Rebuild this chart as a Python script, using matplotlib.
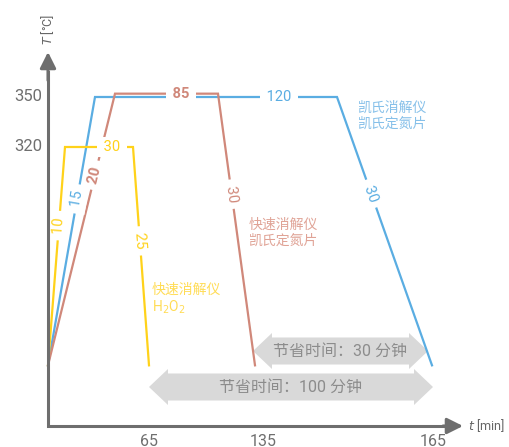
import numpy as np
import matplotlib.pyplot as plt
from matplotlib.patches import Polygon

plt.rcParams['font.family'] = ['Roboto', 'Noto Sans CJK SC', 'DejaVu Sans']

# schematic chart: x is a layout position (not to scale), y is temperature in °C
T_BASE = 189
T_AXIS = 152.6
yellow_x = [0, 17, 85, 101]
yellow_T = [T_BASE, 320, 320, T_BASE]
red_x = [0, 67, 170, 207]
red_T = [T_BASE, 352, 352, T_BASE]
blue_x = [0, 47, 289, 384]
blue_T = [T_BASE, 350, 350, T_BASE]

# minutes written on each segment (rise, hold, cool)
yellow_labels = ['10', '30', '25']
red_labels = ['20', '85', '30']
blue_labels = ['15', '120', '30']
yellow_where = [0.64, 0.69, 0.43]
red_where = [0.70, 0.64, 0.37]
blue_where = [0.62, 0.76, 0.36]
red_bold = [True, True, False]

y_ticks = [350, 320]
x_ticks = [101, 215, 385]
x_tick_labels = ['65', '135', '165']

saved_x0 = [205, 101]
saved_x1 = [380, 385]
saved_T = [197.6, 176.0]
saved_text = ['节省时间：30 分钟', '节省时间：100 分钟']

YELLOW = '#ffd21a'
RED = '#d0887a'
BLUE = '#5aade2'
AXIS = '#6e6e6e'
K = 0.6  # degC per pixel

fig = plt.figure(figsize=(5.1, 4.47), dpi=100)
ax = fig.add_axes([0, 0, 1, 1])
ax.set_xlim(-48, 462)
ax.set_ylim(350 - 350 * K, 350 + 97 * K)
ax.axis('off')


def double_arrow(x0, x1, yc, body=27, head=36, hl=19):
    b = body / 2 * K
    h = head / 2 * K
    pts = [(x0, yc), (x0 + hl, yc + h), (x0 + hl, yc + b), (x1 - hl, yc + b),
           (x1 - hl, yc + h), (x1, yc), (x1 - hl, yc - h), (x1 - hl, yc - b),
           (x0 + hl, yc - b), (x0 + hl, yc - h)]
    ax.add_patch(Polygon(pts, closed=True, facecolor='#d9d9d9', edgecolor='none', zorder=1))


for x0, x1, yc, s in zip(saved_x0, saved_x1, saved_T, saved_text):
    double_arrow(x0, x1, yc)
    ax.text((x0 + x1) / 2, yc, s, ha='center', va='center', fontsize=11.5,
            color='#8c8c8c', zorder=2)


def curve(xs, ts, labels, where, color, bold=None):
    if bold is None:
        bold = [False] * len(labels)
    ax.plot(xs, ts, color=color, lw=1.6, zorder=3, solid_joinstyle='miter')
    for i, (s, f) in enumerate(zip(labels, where)):
        xa, ya = xs[i], ts[i]
        xb, yb = xs[i + 1], ts[i + 1]
        px = xa + f * (xb - xa)
        py = ya + f * (yb - ya)
        d = ax.transData.transform([(xb, yb)]) - ax.transData.transform([(xa, ya)])
        ang = np.degrees(np.arctan2(d[0][1], d[0][0]))
        ax.text(px, py, ' ' + s + ' ', rotation=ang, rotation_mode='anchor',
                ha='center', va='center', fontsize=10.5, color=color,
                fontweight='bold' if bold[i] else 'normal', zorder=4,
                bbox=dict(boxstyle='square,pad=0.2', facecolor='white', edgecolor='none'))


curve(blue_x, blue_T, blue_labels, blue_where, BLUE)
curve(red_x, red_T, red_labels, red_where, RED, bold=red_bold)
curve(yellow_x, yellow_T, yellow_labels, yellow_where, YELLOW)

# side notes
ax.text(310, 350 - 4 * K, '凯氏消解仪\n凯氏定氮片', ha='left', va='top', fontsize=10,
        color='#86c0e9', linespacing=1.15)
ax.text(201, 350 - 121 * K, '快速消解仪\n凯氏定氮片', ha='left', va='top', fontsize=10,
        color='#e0a396', linespacing=1.15)
ax.text(104, 350 - 186 * K, '快速消解仪\nH$_2$O$_2$', ha='left', va='top', fontsize=10,
        color='#ffdc55', linespacing=1.15)

# axes with arrow heads
ax.plot([0, 0, 400], [365, T_AXIS, T_AXIS], color=AXIS, lw=2.2, solid_joinstyle='miter',
        zorder=5)
ax.annotate('', xy=(415, T_AXIS), xytext=(395, T_AXIS),
            arrowprops=dict(arrowstyle='-|>', lw=2.2, color=AXIS, mutation_scale=24,
                            shrinkA=0, shrinkB=0), zorder=5)
ax.annotate('', xy=(0, 377), xytext=(0, 360),
            arrowprops=dict(arrowstyle='-|>', lw=2.2, color=AXIS, mutation_scale=24,
                            shrinkA=0, shrinkB=0), zorder=5)
ax.text(420, T_AXIS, '$t$ [min]', ha='left', va='center', fontsize=9, color='#666666')
ax.text(0, 350 + 68 * K, '$T$ [°C]', ha='center', va='center', rotation=90,
        fontsize=9, color='#666666')

for t in y_ticks:
    ax.text(-6, t, str(t), ha='right', va='center', fontsize=12, color='#6f6f6f')
for x, s in zip(x_ticks, x_tick_labels):
    ax.text(x, T_AXIS - 19.5 * K, s, ha='center', va='baseline', fontsize=11.5,
            color='#6f6f6f')

fig.savefig('out.png', dpi=100)
